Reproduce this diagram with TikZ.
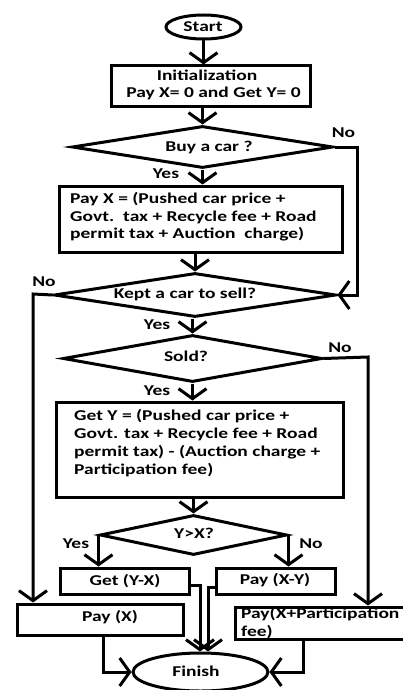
\documentclass[tikz,border=0pt]{standalone}
\usepackage{fontspec}
\setmainfont{Carlito}[FakeStretch=1.3]
\usetikzlibrary{shapes.geometric,arrows.meta}
\begin{document}
\begin{tikzpicture}[x=1pt,y=-1pt,
 shp/.style={draw, line width=3pt, inner sep=0pt},
 boxs/.style={shp, rectangle},
 dia/.style={shp, diamond},
 ell/.style={shp, ellipse},
 txt/.style={font=\fontsize{15}{17.5}\selectfont\bfseries, inner sep=0pt, text height=9.6pt, text depth=0pt},
 ln/.style={line width=3pt},
 arr/.style={ln, -{Straight Barb[length=10pt,width=28pt]}},
]
\useasboundingbox (0,0) rectangle (403,690);
\clip (0,0) rectangle (403,690);
% shapes
\node[ell, minimum width=75pt, minimum height=24pt] (start) at (203.5,27) {};
\node[boxs, minimum width=199pt, minimum height=41pt] (init) at (210.5,86.5) {};
\node[dia, minimum width=261pt, minimum height=42pt] (d1) at (202.5,147) {};
\node[boxs, minimum width=283pt, minimum height=66pt] (b2) at (200.5,219) {};
\node[dia, minimum width=282pt, minimum height=44pt] (d2) at (195,295) {};
\node[dia, minimum width=259pt, minimum height=47pt] (d3) at (192.5,358.5) {};
\node[boxs, minimum width=287pt, minimum height=95pt] (b3) at (199.5,449.5) {};
\node[dia, minimum width=187pt, minimum height=40pt] (d4) at (193.5,535) {};
\node[boxs, minimum width=129pt, minimum height=26pt] (get) at (124.5,581) {};
\node[boxs, minimum width=119pt, minimum height=26pt] (pxy) at (275.5,581) {};
\node[boxs, minimum width=166pt, minimum height=31pt] (px) at (100,619.5) {};
\node[boxs, minimum width=180pt, minimum height=32pt] (pxp) at (325,623) {};
\node[ell, minimum width=135pt, minimum height=38pt] (fin) at (200.5,672) {};
% texts
\node[txt] (tstart) at (203,27) {Start};
\node[txt] (ti1) at (207,76) {Initialization};
\node[txt] (ti2) at (213.5,93) {Pay X= 0 and Get Y= 0};
\node[txt] (td1) at (209,147) {Buy a car ?};
\node[txt, anchor=west] (tb21) at (70,199) {Pay X = (Pushed car price +};
\node[txt, anchor=west] (tb22) at (70,217) {Govt.\ \ tax + Recycle fee + Road};
\node[txt, anchor=west] (tb23) at (70,234) {permit tax + Auction\ \ charge)};
\node[txt] (td2) at (185,294) {Kept a car to sell?};
\node[txt] (td3) at (186,357) {Sold?};
\node[txt, anchor=west] (tb31) at (74,416) {Get Y = (Pushed car price +};
\node[txt, anchor=west] (tb32) at (74,434) {Govt. tax + Recycle fee + Road};
\node[txt, anchor=west] (tb33) at (74,452) {permit tax) - (Auction charge +};
\node[txt, anchor=west] (tb34) at (74,470) {Participation fee)};
\node[txt] (td4) at (194,534) {Y>X?};
\node[txt] (tget) at (125,581) {Get (Y-X)};
\node[txt] (tpxy) at (275,580) {Pay (X-Y)};
\node[txt] (tpx) at (110,617) {Pay (X)};
\node[txt, anchor=west] (tpxp1) at (241,614) {Pay(X+Participation};
\node[txt, anchor=west] (tpxp2) at (241,632) {fee)};
\node[txt] (tfin) at (196,672) {Finish};
% labels
\node[txt] (l1) at (343.5,133) {No};
\node[txt] (l2) at (166,174) {Yes};
\node[txt] (l3) at (44,282) {No};
\node[txt] (l4) at (157,325) {Yes};
\node[txt] (l5) at (340,348) {No};
\node[txt] (l6) at (157,391) {Yes};
\node[txt] (l7) at (76,544) {Yes};
\node[txt] (l8) at (311,544) {No};
% connectors
\coordinate (c1) at (357,147);
\coordinate (c2) at (33,294);
\coordinate (c3) at (368,357);
\coordinate (c4) at (200,585);
\coordinate (c5) at (208,587);
\coordinate (c6) at (103,672);
\coordinate (c7) at (303,672);
\draw[arr] (start.south) -- (start.south |- init.north);
\draw[arr] (d1.north |- init.south) -- (d1.north);
\draw[arr] (d1.south) -- (d1.south |- b2.north);
\draw[arr] (d1.east) -- (c1) |- (d2.east);
\draw[arr] (d2.north |- b2.south) -- (d2.north);
\draw[arr] (d2.west) -- (c2) -- (c2 |- px.north);
\draw[arr] (d3.north |- d2.south) -- (d3.north);
\draw[arr] (d3.east) -- (c3) -- (c3 |- pxp.north);
\draw[arr] (d3.south) -- (d3.south |- b3.north);
\draw[arr] (d4.north |- b3.south) -- (d4.north);
\draw[arr] (d4.west) -- (d4.west |- get.north);
\draw[arr] (d4.east) -- (d4.east |- pxy.north);
\draw[arr] (get.east |- c4) -- (c4) -- (c4 |- fin.north);
\draw[arr] (pxy.west |- c5) -- (c5) -- (c5 |- fin.north);
\draw[arr] (px.south -| c6) -- (c6) -- (fin.west);
\draw[arr] (pxp.south -| c7) -- (c7) -- (fin.east);
\end{tikzpicture}
\end{document}
